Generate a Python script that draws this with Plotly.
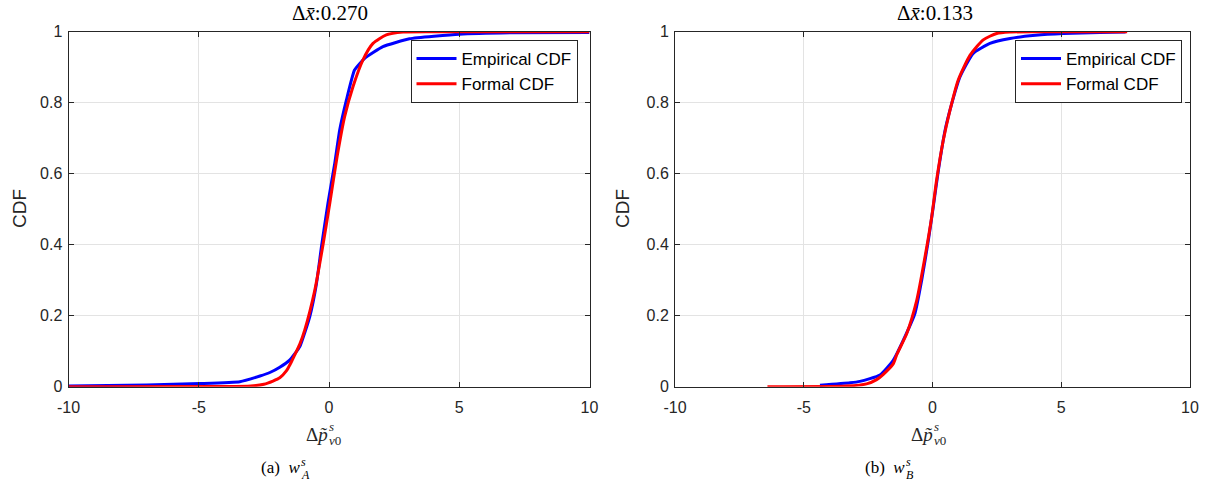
import plotly.graph_objects as go

# ---------------- data ----------------
left_emp_x = [-10, -7, -4.95, -3.42, -2.65, -2.27, -1.89, -1.51, -1.12, -0.74, -0.48, -0.29,
              -0.04, 0.22, 0.41, 0.67, 0.98, 1.37, 2.07, 3.09, 5.0, 7.0, 10]
left_emp_y = [0.002, 0.005, 0.009, 0.014, 0.030, 0.040, 0.055, 0.075, 0.113, 0.197, 0.291, 0.394,
              0.517, 0.629, 0.723, 0.808, 0.892, 0.925, 0.958, 0.980, 0.993, 0.997, 0.998]

left_form_x = [-10, -4, -3, -2.5, -2.15, -1.89, -1.63, -1.5, -1.38, -1.12, -0.93, -0.55, -0.23,
               0.03, 0.31, 0.60, 0.92, 1.30, 1.69, 2.2, 2.84, 4, 10]
left_form_y = [0.0, 0.0005, 0.002, 0.007, 0.016, 0.025, 0.045, 0.062, 0.08, 0.12, 0.16, 0.27, 0.40,
               0.517, 0.648, 0.761, 0.845, 0.920, 0.967, 0.991, 0.999, 1.0, 1.0]

right_emp_x = [-4.37, -3.2, -2.82, -2.04, -1.52, -1.07, -0.68, -0.42, -0.16, 0.03, 0.23, 0.49,
               0.75, 1.07, 1.58, 2.23, 3.01, 4.0, 5.08, 6.5, 7.5]
right_emp_y = [0.004, 0.011, 0.015, 0.033, 0.075, 0.141, 0.207, 0.30, 0.413, 0.507, 0.61, 0.723,
               0.798, 0.873, 0.939, 0.967, 0.981, 0.99, 0.995, 0.998, 0.999]

right_form_x = [-6.41, -3.33, -2.56, -2.17, -1.91, -1.52, -1.39, -1.0, -0.61, -0.29, -0.03, 0.16,
                0.42, 0.68, 1.0, 1.46, 1.97, 2.49, 3.0, 4.0, 7.56]
right_form_y = [0.0, 0.002, 0.008, 0.02, 0.035, 0.065, 0.09, 0.15, 0.244, 0.366, 0.479, 0.582,
                0.695, 0.779, 0.864, 0.934, 0.977, 0.995, 0.999, 1.0, 1.0]

titles = ["Δ<i>x̄</i>:0.270", "Δ<i>x̄</i>:0.133"]
caption_main = ["(a)  <i>w</i>", "(b)  <i>w</i>"]
caption_sup = ["<i>s</i>", "<i>s</i>"]
caption_sub = ["<i>A</i>", "<i>B</i>"]
xlabel_main = "Δ<i>p̃</i>"
xlabel_sup = "<i>s</i>"
xlabel_sub = "<i>v</i>0"
ylabel = "CDF"
x_ticks = [-10, -5, 0, 5, 10]
x_ticktext = ["-10", "-5", "0", "5", "10"]
y_ticks = [0, 0.2, 0.4, 0.6, 0.8, 1.0]
y_ticktext = ["0", "0.2", "0.4", "0.6", "0.8", "1"]
series_names = ["Empirical CDF", "Formal CDF"]

# ---------------- layout geometry ----------------
W, H = 1220, 491
def px_x(p):
    return p / W
def px_y(p):
    return 1 - p / H

dom_left = [px_x(68.5), px_x(589.5)]
dom_right = [px_x(675), px_x(1190)]
dom_y = [px_y(386.7), px_y(31.7)]

AX = "#262626"
GRID = "#E3E3E3"
SANS = "Liberation Sans, Arial, sans-serif"
SERIF = "Liberation Serif, Times New Roman, serif"
BLUE = "#0000FF"
RED = "#FF0000"
LW = 3

fig = go.Figure()

fig.add_trace(go.Scatter(x=left_emp_x, y=left_emp_y, mode="lines", name=series_names[0],
                         line=dict(color=BLUE, width=LW, shape="spline", smoothing=0.4),
                         xaxis="x", yaxis="y", legend="legend"))
fig.add_trace(go.Scatter(x=left_form_x, y=left_form_y, mode="lines", name=series_names[1],
                         line=dict(color=RED, width=LW, shape="spline", smoothing=0.6),
                         xaxis="x", yaxis="y", legend="legend"))
fig.add_trace(go.Scatter(x=right_emp_x, y=right_emp_y, mode="lines", name=series_names[0],
                         line=dict(color=BLUE, width=LW, shape="spline", smoothing=0.5),
                         xaxis="x2", yaxis="y2", legend="legend2"))
fig.add_trace(go.Scatter(x=right_form_x, y=right_form_y, mode="lines", name=series_names[1],
                         line=dict(color=RED, width=LW, shape="spline", smoothing=0.6),
                         xaxis="x2", yaxis="y2", legend="legend2"))

common_x = dict(range=[-10, 10], tickvals=x_ticks, ticktext=x_ticktext, ticks="inside", ticklen=5,
                tickcolor=AX, showline=True, linecolor=AX, linewidth=1, mirror="ticks",
                showgrid=True, gridcolor=GRID, gridwidth=1, zeroline=False, automargin=False,
                ticklabelstandoff=6,
                tickfont=dict(family=SANS, size=16, color=AX))
common_y = dict(range=[0, 1], tickvals=y_ticks, ticktext=y_ticktext, ticks="inside", ticklen=5,
                tickcolor=AX, showline=True, linecolor=AX, linewidth=1, mirror="ticks",
                showgrid=True, gridcolor=GRID, gridwidth=1, zeroline=False, automargin=False,
                ticklabelstandoff=2,
                tickfont=dict(family=SANS, size=16, color=AX))

legend_common = dict(bgcolor="white", bordercolor=AX, borderwidth=1,
                     font=dict(family=SANS, size=17, color="black"),
                     xanchor="right", yanchor="top", tracegroupgap=0, itemwidth=40)

fig.update_layout(
    template="none",
    width=W, height=H, autosize=False,
    margin=dict(l=0, r=0, t=0, b=0, pad=0, autoexpand=False),
    paper_bgcolor="white", plot_bgcolor="white",
    xaxis=dict(domain=dom_left, anchor="y", **common_x),
    yaxis=dict(domain=dom_y, anchor="x", **common_y),
    xaxis2=dict(domain=dom_right, anchor="y2", **common_x),
    yaxis2=dict(domain=dom_y, anchor="x2", **common_y),
    legend=dict(x=px_x(577.5), y=px_y(40), **legend_common),
    legend2=dict(x=px_x(1182), y=px_y(40), **legend_common),
    showlegend=True,
)

annotations = []
def ann(text, xp, yp, size, family=SERIF, color="black", xanchor="center", angle=0):
    annotations.append(dict(text=text, x=px_x(xp), y=px_y(yp), xref="paper", yref="paper",
                            showarrow=False, xanchor=xanchor, yanchor="middle", textangle=angle,
                            borderpad=0,
                            font=dict(family=family, size=size, color=color)))

offsets = [0, 605]
for i in range(2):
    o = offsets[i]
    ann(titles[i], 330 + o, 13, 21)
    # x-axis label with stacked super/subscripts
    ann(xlabel_main, 329 + o, 434, 19, color=AX, xanchor="right")
    ann(xlabel_sup, 327.5 + o, 426, 13, color=AX, xanchor="left")
    ann(xlabel_sub, 327.5 + o, 440, 13, color=AX, xanchor="left")
    # caption
    ann(caption_main[i], 301 + o, 467, 17, xanchor="right")
    ann(caption_sup[i], 299.5 + o, 462, 12, xanchor="left")
    ann(caption_sub[i], 299.5 + o, 475, 12, xanchor="left")
    # y-axis label
    ann(ylabel, [19, 622][i], 209, 19, family=SANS, color=AX, angle=-90)
fig.update_layout(annotations=annotations)

fig.write_html("out.html")
